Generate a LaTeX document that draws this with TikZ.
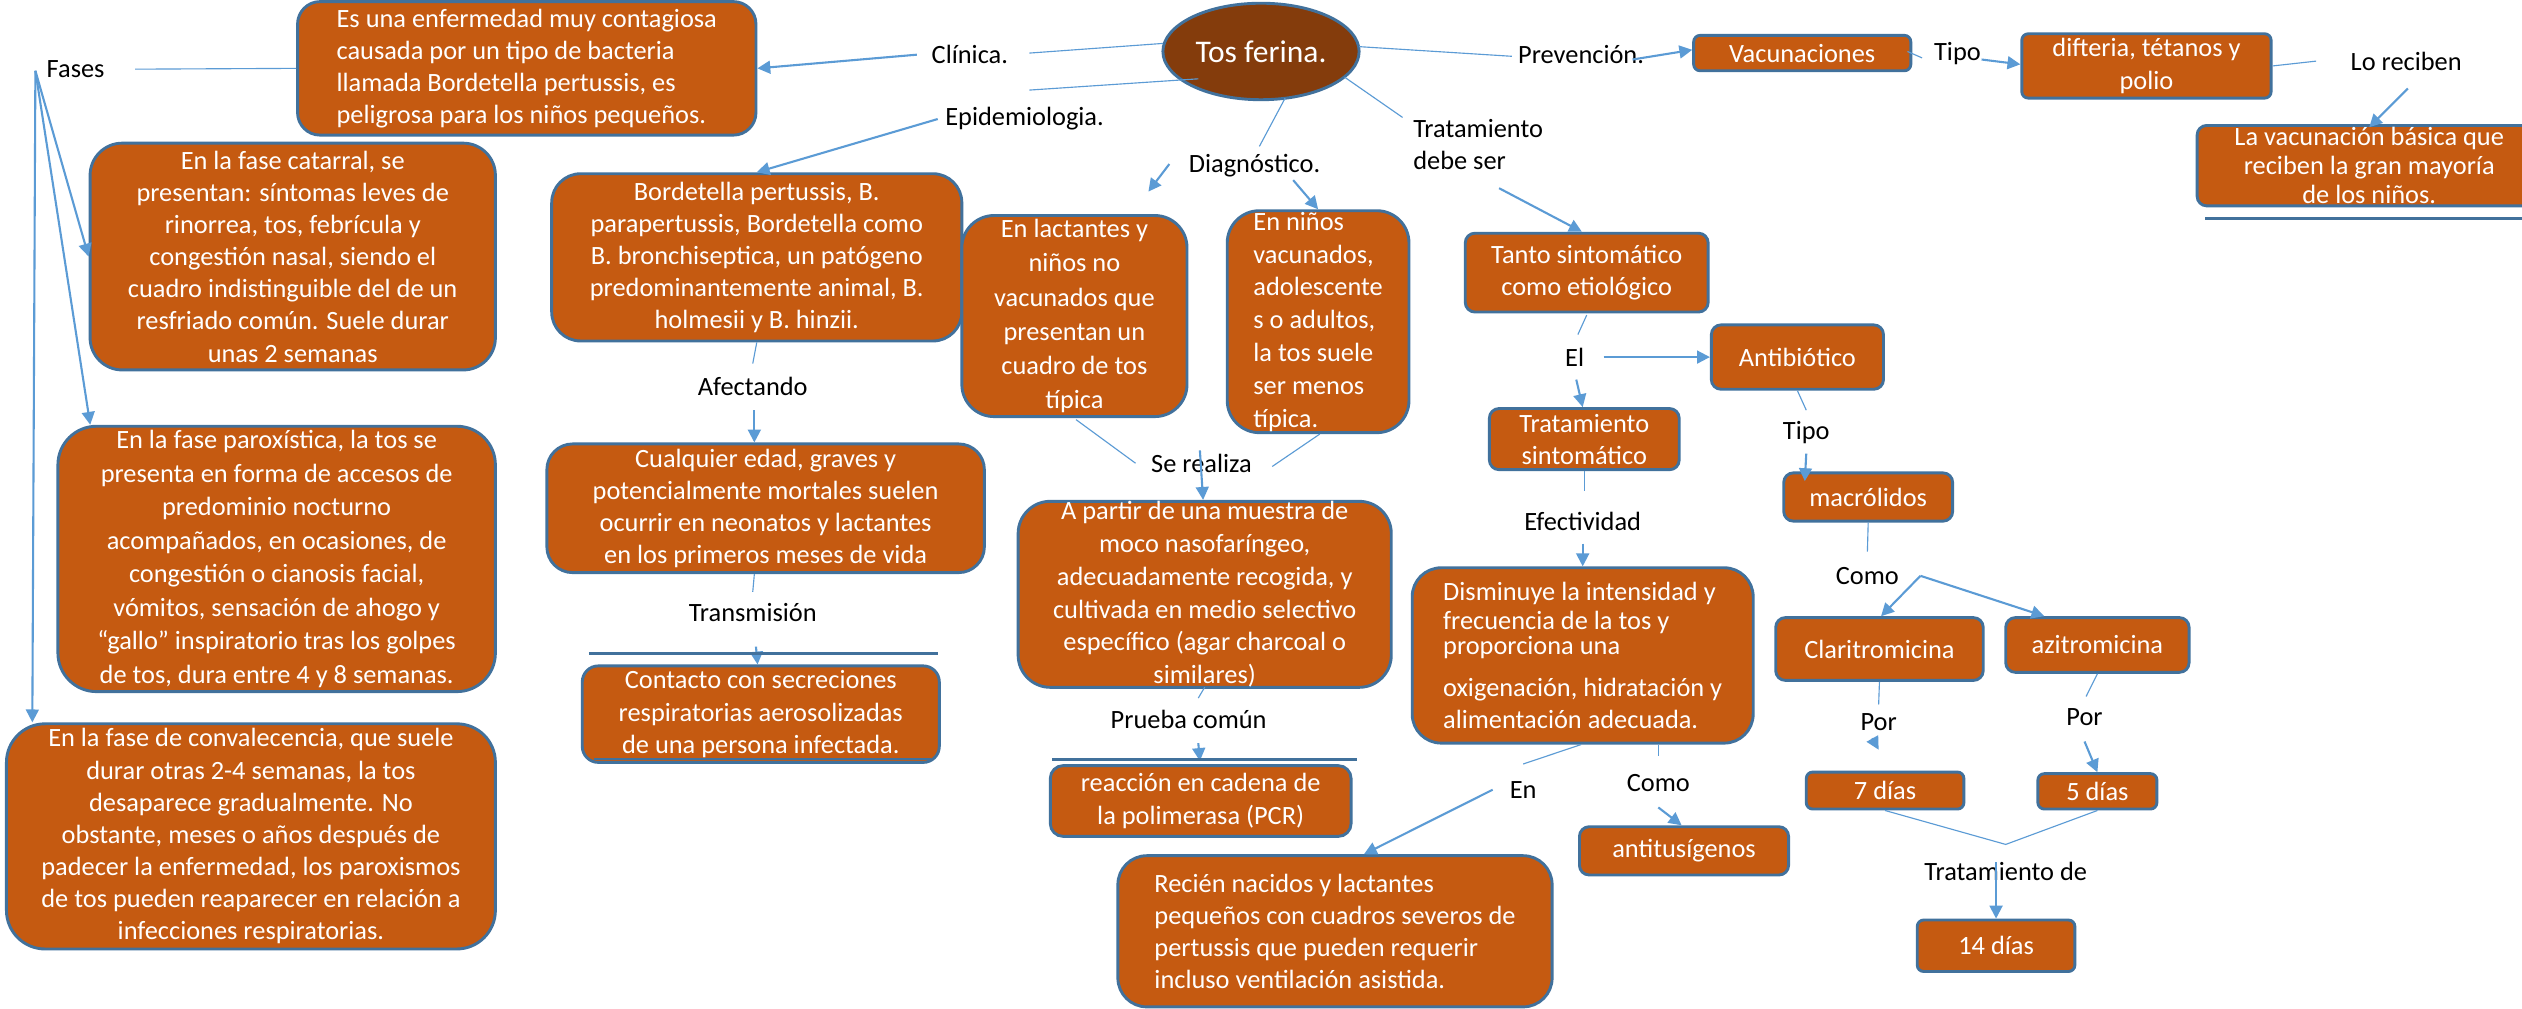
\documentclass[tikz,border=0pt]{standalone}
\usepackage{fontspec}
\setmainfont{Carlito}
\usetikzlibrary{arrows.meta,calc,shapes.geometric}
\definecolor{orng}{HTML}{C55A11}
\definecolor{bord}{HTML}{41719C}
\definecolor{dkbr}{HTML}{843C0C}
\definecolor{conn}{HTML}{5B9BD5}
\newcommand\txtsz{\fontsize{8.2}{10}\selectfont}
\newcommand\mybox[7]{%
  \pgfmathsetmacro\bxcx{(#2+#4)/2}%
  \pgfmathsetmacro\bxcy{(#3+#5)/2}%
  \pgfmathsetmacro\bxw{(#4-#2)/2}%
  \pgfmathsetmacro\bxh{(#5-#3)/2}%
  \node[box,minimum width=\bxw pt,minimum height=\bxh pt,#6] (#1) at (\bxcx,\bxcy) {#7};%
}
\begin{document}
\begin{tikzpicture}[x=0.5pt,y=-0.5pt,
  box/.style={draw=bord,fill=orng,line width=0.9pt,text=white,align=center,inner sep=0pt,font=\txtsz},
  lbl/.style={inner sep=0pt,font=\txtsz,text=black,align=center},
  arr/.style={draw=conn,line width=0.65pt,-{Triangle[length=4pt,width=4pt]}},
  ln/.style={draw=conn,line width=0.35pt},
  hrule/.style={draw=bord,line width=0.9pt}]
\fill[white] (0,0) rectangle (1568,627);
\useasboundingbox (0,0) rectangle (1568,627);

% central node
\node[ellipse,draw=bord,fill=dkbr,line width=0.9pt,minimum width=61pt,minimum height=30pt,inner sep=0pt,text=white,font=\fontsize{9.8}{12}\selectfont] (tos) at (784,32) {Tos ferina.};

% boxes
\mybox{b1}{185}{1}{470}{84}{rounded corners=7pt,align=left}{Es una enfermedad muy contagiosa\\causada por un tipo de bacteria\\llamada Bordetella pertussis, es\\peligrosa para los niños pequeños.}
\mybox{b2}{56}{89}{308}{230}{rounded corners=10pt}{En la fase catarral, se\\presentan: síntomas leves de\\rinorrea, tos, febrícula y\\congestión nasal, siendo el\\cuadro indistinguible del de un\\resfriado común. Suele durar\\unas 2 semanas}
\mybox{b3}{36}{265}{308}{430}{rounded corners=12pt,font=\fontsize{8.2}{10.4}\selectfont}{En la fase paroxística, la tos se\\presenta en forma de accesos de\\predominio nocturno\\acompañados, en ocasiones, de\\congestión o cianosis facial,\\vómitos, sensación de ahogo y\\“gallo” inspiratorio tras los golpes\\de tos, dura entre 4 y 8 semanas.}
\mybox{b4}{4}{450}{308}{590}{rounded corners=12pt}{En la fase de convalecencia, que suele\\durar otras 2-4 semanas, la tos\\desaparece gradualmente. No\\obstante, meses o años después de\\padecer la enfermedad, los paroxismos\\de tos pueden reaparecer en relación a\\infecciones respiratorias.}
\mybox{b5}{343}{108}{598}{212}{rounded corners=9pt}{Bordetella pertussis, B.\\parapertussis, Bordetella como\\B. bronchiseptica, un patógeno\\predominantemente animal, B.\\holmesii y B. hinzii.}
\mybox{b6}{340}{276}{612}{356}{rounded corners=8pt}{Cualquier edad, graves y\\potencialmente mortales suelen\\ocurrir en neonatos y lactantes\\en los primeros meses de vida}
\mybox{b7}{362}{414}{584}{474}{rounded corners=5pt}{Contacto con secreciones\\respiratorias aerosolizadas\\de una persona infectada.}
\mybox{b8}{598}{134}{738}{259}{rounded corners=10pt,font=\fontsize{8.2}{10.6}\selectfont}{En lactantes y\\niños no\\vacunados que\\presentan un\\cuadro de tos\\típica}
\mybox{b9}{763}{131}{876}{269}{rounded corners=10pt,align=left,font=\fontsize{8.2}{10.2}\selectfont}{En niños\\vacunados,\\adolescente\\s o adultos,\\la tos suele\\ser menos\\típica.}
\mybox{b10}{633}{314}{865}{425}{rounded corners=10pt,font=\fontsize{8.2}{10.2}\selectfont}{A partir de una muestra de\\moco nasofaríngeo,\\adecuadamente recogida, y\\cultivada en medio selectivo\\específico (agar charcoal o\\similares)}
\mybox{b11}{653}{476}{840}{520}{rounded corners=4pt}{reacción en cadena de\\la polimerasa (PCR)}
\mybox{b12}{695}{532}{965}{626}{rounded corners=9pt,align=left}{Recién nacidos y lactantes\\pequeños con cuadros severos de\\pertussis que pueden requerir\\incluso ventilación asistida.}
\mybox{b13}{911}{145}{1062}{194}{rounded corners=3pt}{Tanto sintomático\\como etiológico}
\mybox{b14}{1064}{202}{1171}{242}{rounded corners=3pt}{Antibiótico}
\mybox{b15}{926}{254}{1044}{292}{rounded corners=3pt}{Tratamiento\\sintomático}
\mybox{b16}{878}{353}{1090}{462}{rounded corners=9pt,align=left}{Disminuye la intensidad y\\[-1pt]frecuencia de la tos y\\[-2pt]proporciona una\\[3pt]oxigenación, hidratación y\\alimentación adecuada.}
\mybox{b17}{982}{514}{1112}{544}{rounded corners=3pt}{antitusígenos}
\mybox{b18}{1053}{22}{1188}{44}{rounded corners=2pt}{Vacunaciones}
\mybox{b19}{1257}{21}{1412}{61}{rounded corners=2pt}{difteria, tétanos y\\polio}
\mybox{b20}{1366}{78}{1580}{128}{rounded corners=3pt,font=\fontsize{8.2}{9}\selectfont}{La vacunación básica que\\reciben la gran mayoría\\de los niños.}
\mybox{b21}{1109}{294}{1214}{324}{rounded corners=3pt}{macrólidos}
\mybox{b22}{1104}{384}{1233}{423}{rounded corners=3pt}{Claritromicina}
\mybox{b23}{1247}{384}{1361}{418}{rounded corners=3pt}{azitromicina}
\mybox{b24}{1123}{480}{1221}{503}{rounded corners=2pt}{7 días}
\mybox{b25}{1267}{481}{1341}{503}{rounded corners=2pt}{5 días}
\mybox{b26}{1192}{572}{1290}{604}{rounded corners=2pt}{14 días}

% labels
\node[lbl] (fases) at (47,43) {Fases};
\node[lbl] (clin) at (603,34) {Clínica.};
\node[lbl] (epi) at (637,74) {Epidemiologia.};
\node[lbl] (prev) at (983,34) {Prevención.};
\node[lbl] (tipo1) at (1217,33) {Tipo};
\node[lbl] (loreciben) at (1496,38) {Lo reciben};
\node[lbl] (diag) at (780,103) {Diagnóstico.};
\node[lbl,align=left] (trat) at (919,90) {Tratamiento\\debe ser};
\node[lbl] (afect) at (468,240) {Afectando};
\node[lbl] (transm) at (468,381) {Transmisión};
\node[lbl] (serealiza) at (747,288) {Se realiza};
\node[lbl] (prueba) at (739,447) {Prueba común};
\node[lbl] (el) at (979,222) {El};
\node[lbl] (tipo2) at (1123,269) {Tipo};
\node[lbl] (efect) at (984,324) {Efectividad};
\node[lbl] (como1) at (1161,358) {Como};
\node[lbl] (en) at (947,491) {En};
\node[lbl] (como2) at (1031,487) {Como};
\node[lbl] (por1) at (1168,449) {Por};
\node[lbl] (por2) at (1296,446) {Por};
\node[lbl] (tratde) at (1247,542) {Tratamiento de};

\coordinate (fz) at (22,44);
\coordinate (cf) at ($(como1)+(33,0)$);

% connectors
\draw[ln] ($(tos)+(-61,-5)$) -- ($(clin)+(37,-1)$);
\draw[arr] ($(clin)+(-33,0)$) -- (b1.east);
\draw[ln] ($(tos)+(-39,17)$) -- ($(epi)+(3,-18)$);
\draw[arr] ($(epi)+(-54,0)$) -- (b5.north);
\draw[ln] ($(fases)+(37,0)$) -- (b1.west);
\draw[arr] (fz) -- (b2.west);
\draw[arr] (fz) -- ($(b3.north west)+(21,0)$);
\draw[arr] (fz) -- ($(b4.north west)+(17,0)$);
\draw[ln] ($(tos)+(61,-3)$) -- ($(prev)+(-43,1)$);
\draw[arr] ($(prev)+(32,3)$) -- ($(b18.west)+(0,-2)$);
\draw[ln] ($(b18.east)+(-3,-1)$) -- ($(tipo1)+(-22,3)$);
\draw[arr] ($(tipo1)+(15,4)$) -- ($(b19.west)+(0,-1)$);
\draw[ln] (b19.east) -- ($(loreciben)+(-56,0)$);
\draw[arr] ($(loreciben)+(1,17)$) -- ($(b20.north)+(0,2)$);
\draw[ln] ($(tos)+(15,29)$) -- ($(diag)+(3,-12)$);
\draw[ln] ($(tos)+(52,16)$) -- ($(trat)+(-47,-17)$);
\draw[arr] ($(diag)+(-53,-1)$) -- ($(b8.north)+(46,-14)$);
\draw[arr] ($(diag)+(24,9)$) -- (b9.north);
\draw[arr] ($(trat)+(13,27)$) -- ($(b13.north)+(-3,0)$);
\draw[ln] ($(b13.south)+(0,1)$) -- ($(el)+(2,-14)$);
\draw[arr] ($(el)+(18,0)$) -- (b14.west);
\draw[arr] ($(el)+(1,14)$) -- ($(b15.north)+(-1,0)$);
\draw[ln] (b15.south) -- ($(efect)+(1,-19)$);
\draw[arr] ($(efect)+(0,14)$) -- (b16.north);
\draw[ln] ($(b16.south)+(-1,0)$) -- ($(en)+(0,-16)$);
\draw[arr] ($(en)+(-19,0)$) -- ($(b12.north)+(18,0)$);
\draw[ln] ($(b16.south)+(47,0)$) -- ($(como2)+(0,-17)$);
\draw[arr] ($(como2)+(0,15)$) -- ($(b17.north)+(-1.5,0)$);
\draw[ln] (b14.south) -- ($(tipo2)+(0,-14)$);
\draw[arr] ($(tipo2)+(0,13)$) -- ($(b21.north west)+(14,6)$);
\draw[ln] (b21.south) -- ($(como1)+(0,-15)$);
\draw[arr] (cf) -- ($(b22.north)+(1,0)$);
\draw[arr] (cf) -- ($(b23.north)+(-33,0)$);
\draw[ln] (b22.south) -- ($(por1)+(0,-11)$);
\draw[arr] ($(por1)+(-4,10)$) -- ($(b24.north)+(-4,-13)$);
\draw[ln] (b23.south) -- ($(por2)+(1,-13)$);
\draw[arr] ($(por2)+(0,15)$) -- (b25.north);
\draw[ln] (b24.south) -- ($(tratde)+(0,-17)$) -- (b25.south);
\draw[arr] ($(tratde)+(-6,-6)$) -- (b26.north);
\draw[ln] (b5.south) -- ($(afect)+(0,-14)$);
\draw[arr] ($(afect)+(1,15)$) -- ($(b6.north)+(-7,0)$);
\draw[ln] ($(b6.south)+(-7,0)$) -- ($(transm)+(0,-13)$);
\draw[arr] ($(transm)+(2,21)$) -- ($(b7.north)+(-2,0)$);
\draw[ln] ($(b8.south)+(1,1)$) -- ($(serealiza)+(-41,0)$);
\draw[ln] ($(b9.south)+(1,0)$) -- ($(serealiza)+(44,2)$);
\draw[arr] ($(serealiza)+(-1,-8)$) -- ($(b10.north)+(-1,0)$);
\draw[ln] ($(b10.south)+(0,-1)$) -- ($(prueba)+(6,-13)$);
\draw[arr] ($(prueba)+(6,15)$) -- ($(b11.north)+(-0.5,-2)$);

% rules
\draw[hrule] ($(b7.north west)+(5,-7)$) -- ($(b7.north east)+(-2,-7)$);
\draw[hrule] ($(b7.south west)+(8,-3)$) -- ($(b7.south east)+(-6,-3)$);
\draw[hrule] ($(b11.north west)+(2,-3)$) -- ($(b11.north east)+(3,-3)$);
\draw[hrule] ($(b20.south west)+(6,7)$) -- ($(b20.south east)+(0,7)$);
\end{tikzpicture}
\end{document}
